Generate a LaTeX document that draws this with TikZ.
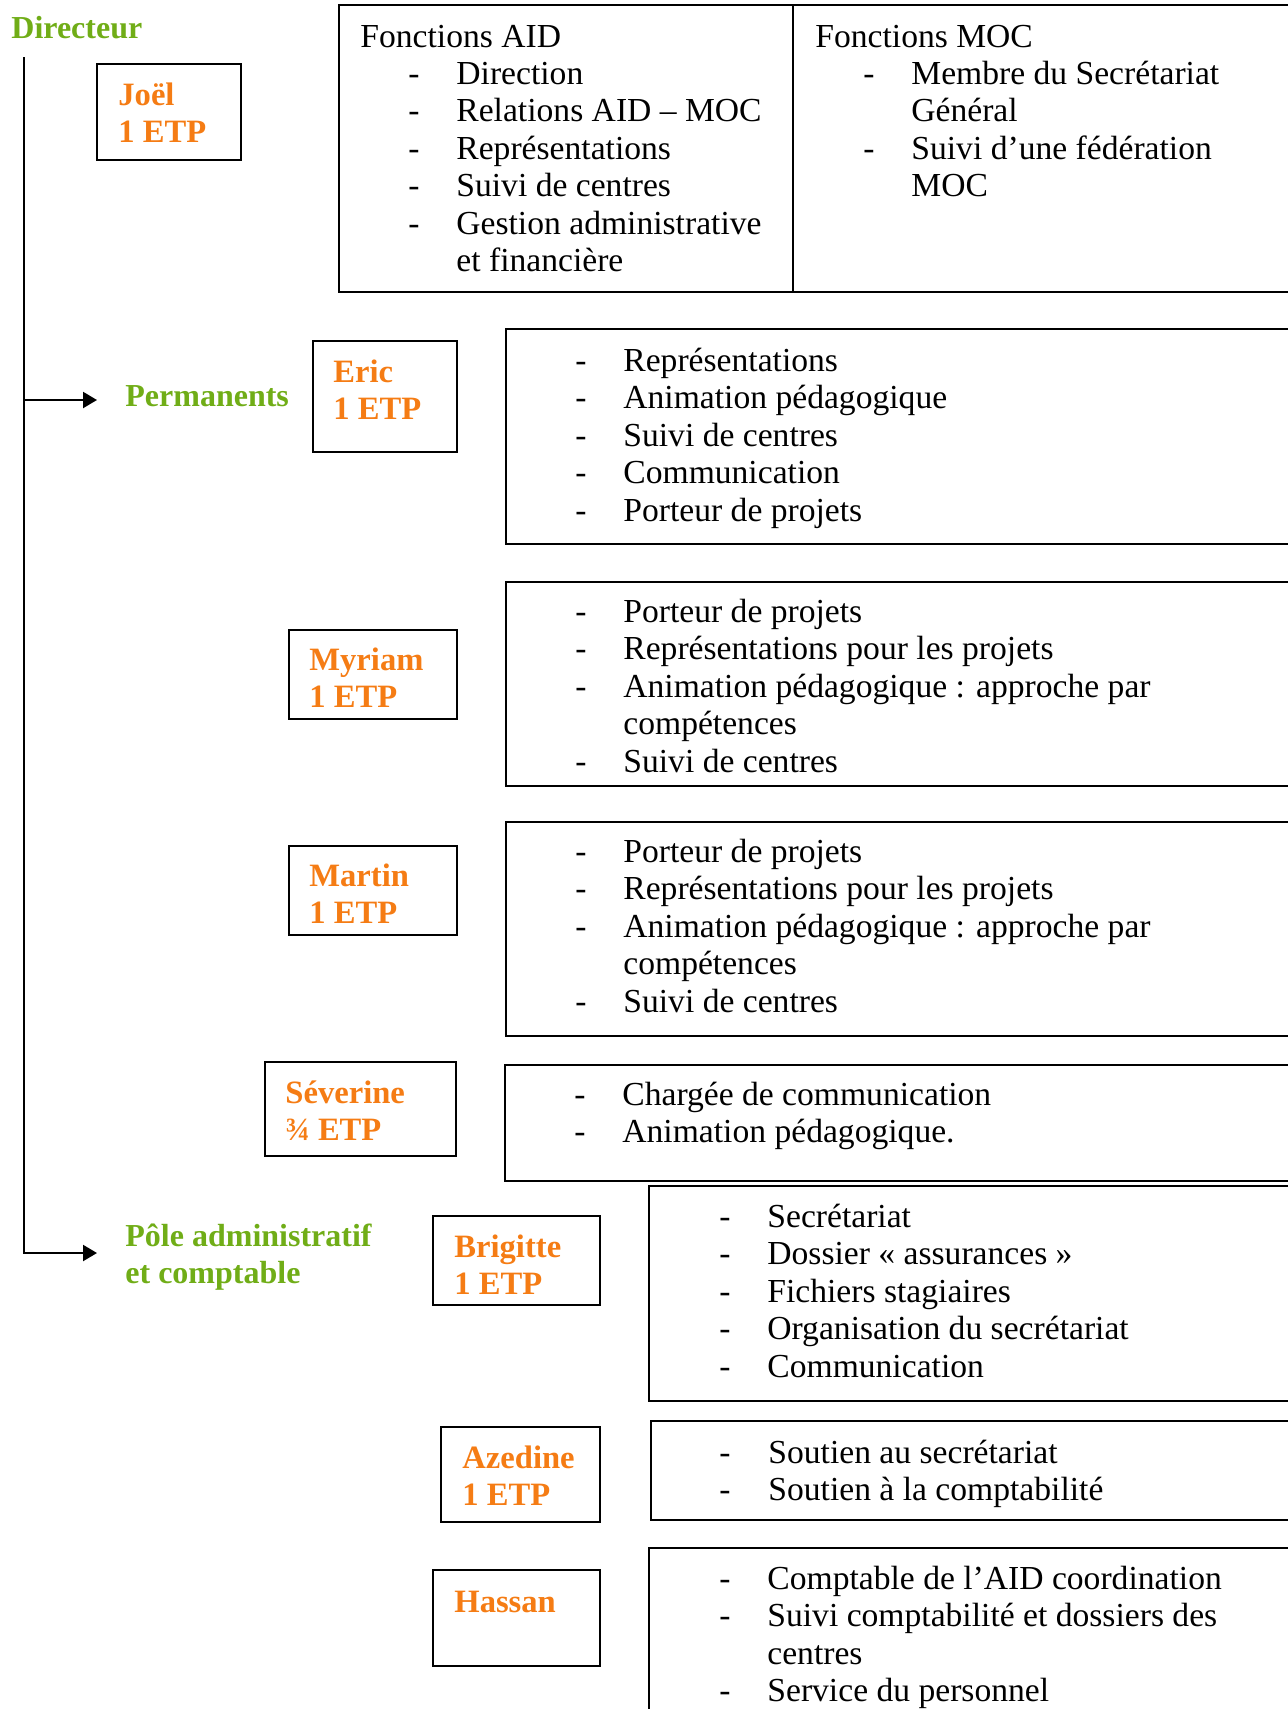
\documentclass[tikz,border=0pt]{standalone}
\usepackage{fontspec}
\setmainfont{Liberation Serif}
\usepackage{tikz}
\usetikzlibrary{arrows.meta}
\definecolor{vertpole}{RGB}{112,173,23}
\definecolor{orangeetp}{RGB}{245,124,20}
\tikzset{
  every node/.style={inner sep=0pt, anchor=base west},
  fn/.style={font=\fontsize{16.8}{18.75}\selectfont},
  nom/.style={font=\fontsize{16.3}{18.75}\selectfont\bfseries, text=orangeetp},
  pole/.style={font=\fontsize{16}{18.75}\selectfont\bfseries, text=vertpole},
  cadre/.style={line width=1.1pt},
  fleche/.style={line width=1.1pt, -{Triangle[length=7pt,width=8pt]}}
}
% liste de fonctions : nom, x tiret, x texte, premiere ligne, items tiret/texte
\newcommand\fonctions[5]{%
  \foreach \d/\t [count=\i from 0] in {#5} {
    \ifnum\d=1 \node[fn] (#1d\i) at (#2,{#4+37.5*\i}) {-};\fi
    \node[fn] (#1\i) at (#3,{#4+37.5*\i}) {\t};
  }}
% personne : nom, x, y, prenom, etp
\newcommand\personne[5]{%
  \node[nom] (#1) at (#2,#3) {#4};
  \node[nom] (#1etp) at (#2,{#3+37}) {#5};}

\begin{document}
\begin{tikzpicture}[x=0.5pt, y=-0.5pt]
  \useasboundingbox (0,0) rectangle (1288,1709);
  \clip (0,0) rectangle (1288,1709);

  % poles
  \node[pole] (dir) at (11,38) {Directeur};
  \node[pole] (perm) at (125,406) {Permanents};
  \node[pole] (adm) at (125,1246) {Pôle administratif};
  \node[pole] (adm2) at (125,1283) {et comptable};
  \coordinate (tronc) at (24,57);
  \coordinate (permfl) at (97,400);
  \coordinate (admfl) at (97,1253);
  \draw[fleche] (tronc) |- (admfl);
  \draw[fleche] (tronc |- permfl) -- (permfl);

  % cadres
  \draw[cadre] (97,64) rectangle (241,160);
  \draw[cadre] (339,5) rectangle (793,292);
  \draw[cadre] (793,5) rectangle (1300,292);
  \draw[cadre] (313,341) rectangle (457,452);
  \draw[cadre] (506,329) rectangle (1300,544);
  \draw[cadre] (289,630) rectangle (457,719);
  \draw[cadre] (506,582) rectangle (1300,786);
  \draw[cadre] (289,846) rectangle (457,935);
  \draw[cadre] (506,822) rectangle (1300,1036);
  \draw[cadre] (265,1062) rectangle (456,1156);
  \draw[cadre] (505,1065) rectangle (1300,1181);
  \draw[cadre] (433,1216) rectangle (600,1305);
  \draw[cadre] (649,1186) rectangle (1300,1401);
  \draw[cadre] (441,1427) rectangle (600,1522);
  \draw[cadre] (651,1421) rectangle (1300,1520);
  \draw[cadre] (433,1570) rectangle (600,1666);
  \draw[cadre] (649,1548) rectangle (1300,1720);

  % personnes
  \personne{joel}{118}{105}{Joël}{1 ETP}
  \personne{eric}{333}{382}{Eric}{1 ETP}
  \personne{myriam}{309}{670}{Myriam}{1 ETP}
  \personne{martin}{309}{886}{Martin}{1 ETP}
  \personne{severine}{285}{1103}{Séverine}{¾ ETP}
  \personne{brigitte}{454}{1257}{Brigitte}{1 ETP}
  \personne{azedine}{462}{1468}{Azedine}{1 ETP}
  \node[nom] (hassan) at (454,1612) {Hassan};

  % fonctions
  \node[fn] (aid) at (360,47) {Fonctions AID};
  \fonctions{aidf}{408}{456}{84}{1/Direction, 1/Relations AID – MOC, 1/Représentations,
    1/Suivi de centres, 1/Gestion administrative, 0/et financière}
  \node[fn] (moc) at (815,47) {Fonctions MOC};
  \fonctions{mocf}{863}{911}{84}{1/Membre du Secrétariat, 0/Général,
    1/Suivi d’une fédération, 0/MOC}
  \fonctions{ericf}{575}{623}{371}{1/Représentations, 1/Animation pédagogique,
    1/Suivi de centres, 1/Communication, 1/Porteur de projets}
  \fonctions{myriamf}{575}{623}{622}{1/Porteur de projets, 1/Représentations pour les projets,
    1/Animation pédagogique : approche par, 0/compétences, 1/Suivi de centres}
  \fonctions{martinf}{575}{623}{862}{1/Porteur de projets, 1/Représentations pour les projets,
    1/Animation pédagogique : approche par, 0/compétences, 1/Suivi de centres}
  \fonctions{severinef}{574}{622}{1105}{1/Chargée de communication, 1/Animation pédagogique.}
  \fonctions{brigittef}{719}{767}{1227}{1/Secrétariat, 1/Dossier « assurances »,
    1/Fichiers stagiaires, 1/Organisation du secrétariat, 1/Communication}
  \fonctions{azedinef}{719}{768}{1463}{1/Soutien au secrétariat, 1/Soutien à la comptabilité}
  \fonctions{hassanf}{719}{767}{1589}{1/Comptable de l’AID coordination,
    1/Suivi comptabilité et dossiers des, 0/centres, 1/Service du personnel}
\end{tikzpicture}
\end{document}
